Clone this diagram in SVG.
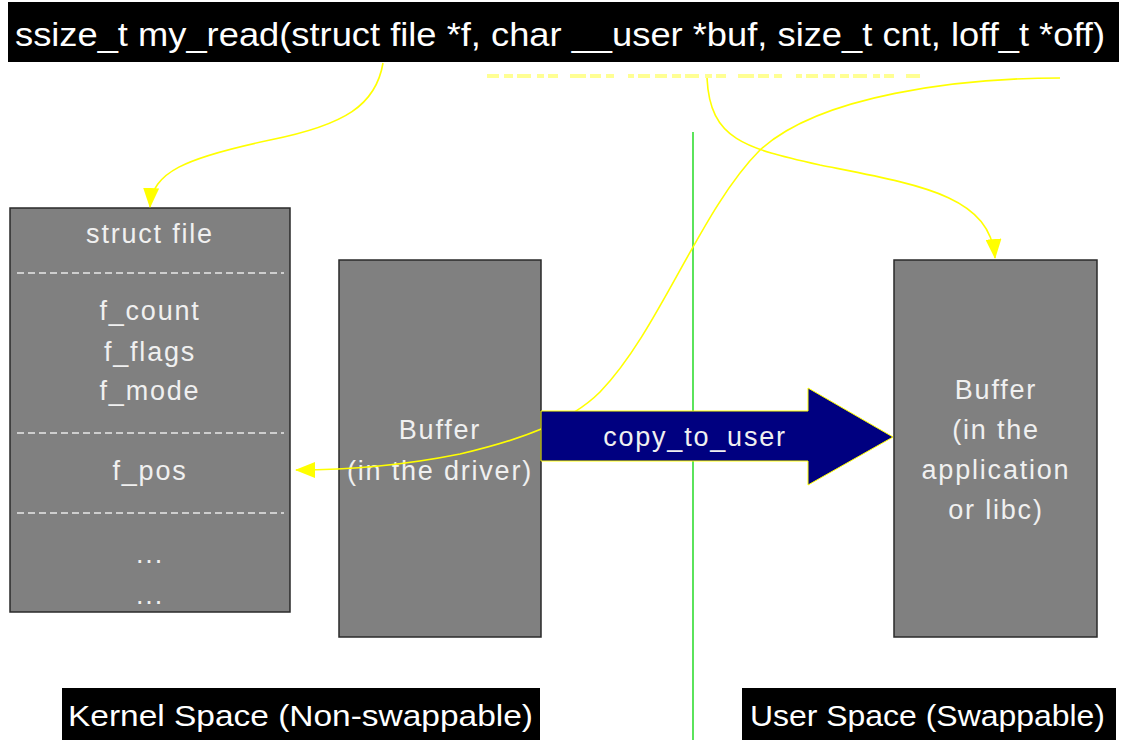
<svg xmlns="http://www.w3.org/2000/svg" width="1123" height="740" viewBox="0 0 1123 740">
  <style>
    .box { fill: #808080; stroke: #2a2a2a; stroke-width: 1.5; }
    .lbl { font-family: "Liberation Sans", Arial, sans-serif; font-size: 27px; letter-spacing: 1.8px; fill: #f0f0f0; text-anchor: middle; }
    .bar { fill: #000000; }
    .bartxt { font-family: "Liberation Sans", Arial, sans-serif; fill: #ffffff; }
    .sep { stroke: #e8e8e8; stroke-width: 1.5; stroke-dasharray: 7 4; }
    .link { fill: none; stroke: #ffff00; stroke-width: 1.6; }
  </style>
  <defs>
    <marker id="yhead" viewBox="0 0 20 16" refX="19" refY="8" markerWidth="20" markerHeight="16" markerUnits="userSpaceOnUse" orient="auto">
      <path d="M0,0 L20,8 L0,16 Z" fill="#ffff00"/>
    </marker>
  </defs>
  <rect width="1123" height="740" fill="#ffffff"/>

  <!-- function signature banner -->
  <g id="signature">
    <rect class="bar" x="8" y="2" width="1111" height="60"/>
    <text class="bartxt" x="15" y="46" font-size="34" textLength="1090" lengthAdjust="spacingAndGlyphs">ssize_t my_read(struct file *f, char __user *buf, size_t cnt, loff_t *off)</text>
  </g>

  <!-- faint yellow strip under the banner -->
  <g id="strip">
    <path d="M487,76 L920,76" stroke="#ffff66" stroke-width="4" stroke-dasharray="12 5 9 4 14 6 7 4 10 12 16 4 11 5 8 14 6 4 12 5" opacity="0.7"/>
  </g>

  <!-- kernel / user boundary -->
  <g id="boundary">
    <line x1="693" y1="132" x2="693" y2="740" stroke="#33dd33" stroke-width="1.6"/>
  </g>

  <!-- struct file -->
  <g id="struct-file">
    <rect class="box" x="10" y="208" width="280" height="404"/>
    <text class="lbl" x="150" y="243">struct file</text>
    <line class="sep" x1="17" y1="273" x2="284" y2="273"/>
    <text class="lbl" x="150" y="320">f_count</text>
    <text class="lbl" x="150" y="361">f_flags</text>
    <text class="lbl" x="150" y="400">f_mode</text>
    <line class="sep" x1="17" y1="433" x2="284" y2="433"/>
    <text class="lbl" x="150" y="480">f_pos</text>
    <line class="sep" x1="17" y1="513" x2="284" y2="513"/>
    <text class="lbl" x="150" y="563">...</text>
    <text class="lbl" x="150" y="604">...</text>
  </g>

  <!-- driver buffer -->
  <g id="driver-buffer">
    <rect class="box" x="339" y="260" width="202" height="377"/>
    <text class="lbl" x="440" y="439">Buffer</text>
    <text class="lbl" x="440" y="480">(in the driver)</text>
  </g>

  <!-- application buffer -->
  <g id="app-buffer">
    <rect class="box" x="894" y="260" width="203" height="377"/>
    <text class="lbl" x="996" y="399">Buffer</text>
    <text class="lbl" x="996" y="439">(in the</text>
    <text class="lbl" x="996" y="479">application</text>
    <text class="lbl" x="996" y="519">or libc)</text>
  </g>

  <!-- connectors -->
  <g id="connectors">
    <path class="link" stroke-width="2" d="M383,63 C376,105 345,125 270,140 C185,158 152,172 150,207" marker-end="url(#yhead)"/>
    <path class="link" d="M707,78 C710,140 745,148 820,165 C920,185 990,195 995,258" marker-end="url(#yhead)"/>
    <path class="link" d="M1060,78 C960,78 820,95 760,150 C700,210 660,330 600,392 C570,422 520,440 460,454 C400,466 345,470 296,470" marker-end="url(#yhead)"/>
  </g>

  <!-- copy_to_user arrow -->
  <g id="copy-arrow">
    <path d="M541,411 L808,411 L808,388 L893,437 L808,485 L808,461 L541,461 Z" fill="#000080" stroke="#ffff00" stroke-width="1"/>
    <text class="lbl" x="695" y="446" fill="#ffffff">copy_to_user</text>
  </g>

  <!-- space captions -->
  <g id="kernel-space">
    <rect class="bar" x="62" y="688" width="478" height="52"/>
    <text class="bartxt" x="68" y="726" font-size="30" textLength="465" lengthAdjust="spacingAndGlyphs">Kernel Space (Non-swappable)</text>
  </g>
  <g id="user-space">
    <rect class="bar" x="742" y="688" width="374" height="52"/>
    <text class="bartxt" x="750" y="726" font-size="30" textLength="355" lengthAdjust="spacingAndGlyphs">User Space (Swappable)</text>
  </g>
</svg>
